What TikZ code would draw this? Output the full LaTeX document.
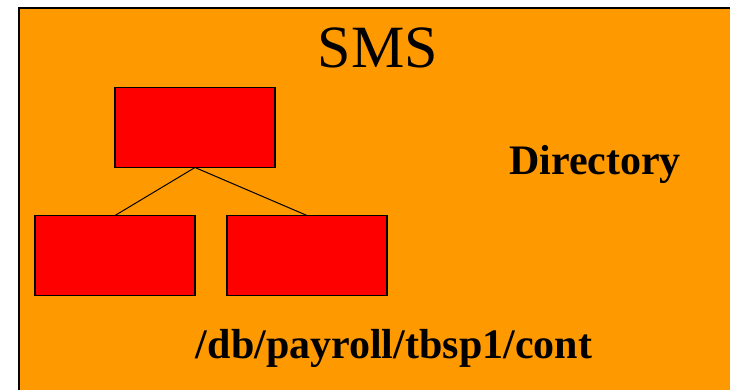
\documentclass[tikz,border=0pt]{standalone}
\usepackage{fontspec}
\setmainfont{Liberation Serif}
\definecolor{smsorange}{HTML}{FF9900}
\definecolor{boxred}{HTML}{FF0000}
\begin{document}
\begin{tikzpicture}[x=1pt,y=-1pt,
  redbox/.style={draw=black,fill=boxred,line width=1.4pt,minimum width=160pt,minimum height=80pt,inner sep=0pt,outer sep=0pt},
  label/.style={inner sep=0pt,anchor=base},
  link/.style={line width=1pt}]
\useasboundingbox (0,0) rectangle (730,389);
\draw[fill=smsorange,line width=2pt] (19,8) rectangle (760,420);
\node[redbox] (top) at (195,127.5) {};
\node[redbox] (left) at (115,255.5) {};
\node[redbox] (right) at (307,255.5) {};
\draw[link] (top.south) -- (left.north);
\draw[link] (top.south) -- (right.north);
\node[label,font=\fontsize{60}{60}\selectfont] (sms) at (378,67.3) {SMS};
\node[label,font=\fontsize{42}{42}\selectfont\bfseries] (dir) at (595,174.3) {Directory};
\node[label,font=\fontsize{42}{42}\selectfont\bfseries] (path) at (394,358.3) {/db/payroll/tbsp1/cont};
\end{tikzpicture}
\end{document}
